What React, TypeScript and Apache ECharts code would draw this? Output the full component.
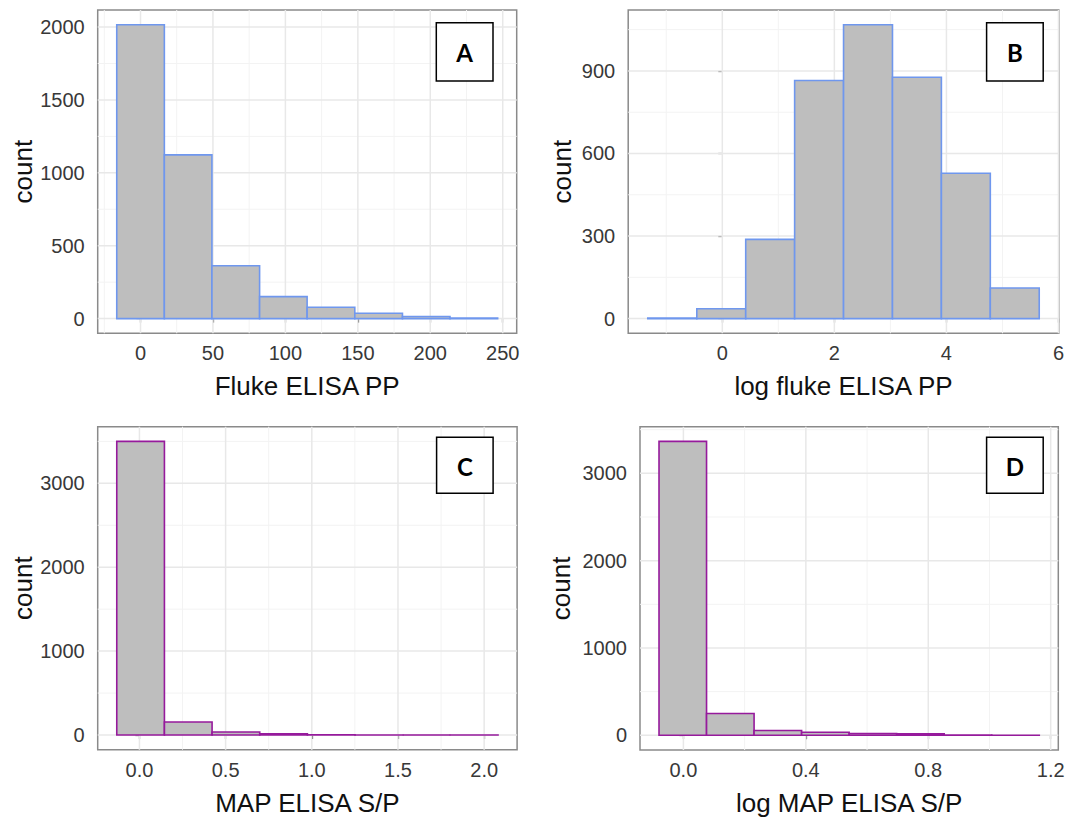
import React, { useEffect, useRef } from "react";
import * as echarts from "echarts";

// A: Fluke ELISA PP
const flukeEdges = [-16.4, 16.46, 49.3, 82.2, 115.0, 147.9, 180.8, 213.6, 246.5];
const flukeCounts = [2016, 1123, 363, 151, 78, 37, 14, 3];
const flukeXTicks = [0, 50, 100, 150, 200, 250];
const flukeXMinor = [-25, 25, 75, 125, 175, 225];
const flukeYTicks = [0, 500, 1000, 1500, 2000];
const flukeYMinor = [250, 750, 1250, 1750];

// B: log fluke ELISA PP
const logFlukeEdges = [-1.33, -0.455, 0.418, 1.291, 2.164, 3.037, 3.91, 4.783, 5.656];
const logFlukeCounts = [2, 36, 288, 865, 1068, 877, 528, 111];
const logFlukeXTicks = [0, 2, 4, 6];
const logFlukeXMinor = [-1, 1, 3, 5];
const logFlukeYTicks = [0, 300, 600, 900];
const logFlukeYMinor = [150, 450, 750, 1050];

// C: MAP ELISA S/P
const mapEdges = [-0.1315, 0.145, 0.4215, 0.698, 0.9745, 1.251, 1.5275, 1.804, 2.0805];
const mapCounts = [3500, 155, 36, 15, 2, 1, 0, 1];
const mapXTicks = [0, 0.5, 1, 1.5, 2];
const mapXMinor = [0.25, 0.75, 1.25, 1.75];
const mapYTicks = [0, 1000, 2000, 3000];
const mapYMinor = [500, 1500, 2500, 3500];

// D: log MAP ELISA S/P
const logMapEdges = [-0.0797, 0.0756, 0.2309, 0.3862, 0.5415, 0.6968, 0.8521, 1.0074, 1.1627];
const logMapCounts = [3366, 249, 55, 35, 20, 17, 3, 1];
const logMapXTicks = [0, 0.4, 0.8, 1.2];
const logMapXMinor = [0.2, 0.6, 1.0];
const logMapYTicks = [0, 1000, 2000, 3000];
const logMapYMinor = [500, 1500, 2500, 3500];

const BLUE = "#6f97ee";
const PURPLE = "#961a9c";
const FILL = "#bebebe";
const FONT = "Liberation Sans";
const LABEL_COLOR = "#383838";

type Panel = {
  letter: string;
  xName: string;
  edges: number[];
  counts: number[];
  xTicks: number[];
  xMinor: number[];
  yTicks: number[];
  yMinor: number[];
  decimals: number;
  stroke: string;
  grid: { left: number; top: number; width: number; height: number };
  yNameGap: number;
  box: { x: number; y: number; w: number; h: number };
};

const panels: Panel[] = [
  {
    letter: "A", xName: "Fluke ELISA PP",
    edges: flukeEdges, counts: flukeCounts,
    xTicks: flukeXTicks, xMinor: flukeXMinor, yTicks: flukeYTicks, yMinor: flukeYMinor,
    decimals: 0, stroke: BLUE,
    grid: { left: 97.7, top: 10, width: 419, height: 323.3 },
    yNameGap: 62,
    box: { x: 436.3, y: 22.7, w: 56.7, h: 58.3 },
  },
  {
    letter: "B", xName: "log fluke ELISA PP",
    edges: logFlukeEdges, counts: logFlukeCounts,
    xTicks: logFlukeXTicks, xMinor: logFlukeXMinor, yTicks: logFlukeYTicks, yMinor: logFlukeYMinor,
    decimals: 0, stroke: BLUE,
    grid: { left: 628.2, top: 10, width: 430.6, height: 323.3 },
    yNameGap: 53.5,
    box: { x: 986.6, y: 22.7, w: 56.6, h: 58.3 },
  },
  {
    letter: "C", xName: "MAP ELISA S/P",
    edges: mapEdges, counts: mapCounts,
    xTicks: mapXTicks, xMinor: mapXMinor, yTicks: mapYTicks, yMinor: mapYMinor,
    decimals: 1, stroke: PURPLE,
    grid: { left: 97.7, top: 426.7, width: 419.4, height: 323 },
    yNameGap: 62,
    box: { x: 436.6, y: 437.3, w: 56.5, h: 56 },
  },
  {
    letter: "D", xName: "log MAP ELISA S/P",
    edges: logMapEdges, counts: logMapCounts,
    xTicks: logMapXTicks, xMinor: logMapXMinor, yTicks: logMapYTicks, yMinor: logMapYMinor,
    decimals: 1, stroke: PURPLE,
    grid: { left: 640, top: 426.7, width: 418.3, height: 323.3 },
    yNameGap: 66,
    box: { x: 986.6, y: 437.3, w: 56.6, h: 56 },
  },
];

// ggplot-style 5% expansion of the data range
const expand = (lo: number, hi: number) => {
  const pad = (hi - lo) * 0.05;
  return [lo - pad, hi + pad];
};

const renderGridLine = (params: any, api: any) => {
  const cs = params.coordSys;
  const v = api.value(0);
  const dir = api.value(1);
  const major = api.value(2) === 1;
  let shape;
  if (dir === 0) {
    const x = api.coord([v, 0])[0];
    shape = { x1: x, y1: cs.y, x2: x, y2: cs.y + cs.height };
  } else {
    const y = api.coord([0, v])[1];
    shape = { x1: cs.x, y1: y, x2: cs.x + cs.width, y2: y };
  }
  return {
    type: "line",
    shape,
    style: { stroke: major ? "#e8e8e8" : "#f3f3f3", lineWidth: major ? 1.5 : 1 },
  };
};

const makeBarRenderer = (stroke: string) => (params: any, api: any) => {
  const x0 = api.value(0);
  const x1 = api.value(1);
  const c = api.value(2);
  const p0 = api.coord([x0, 0]);
  const p1 = api.coord([x1, c]);
  return {
    type: "rect",
    shape: { x: p0[0], y: p1[1], width: p1[0] - p0[0], height: p0[1] - p1[1] },
    style: { fill: FILL, stroke, lineWidth: 1.6 },
  };
};

function buildOption() {
  const grid: any[] = [];
  const xAxis: any[] = [];
  const yAxis: any[] = [];
  const series: any[] = [];
  const graphic: any[] = [];

  panels.forEach((p, i) => {
    const [xMin, xMax] = expand(p.edges[0], p.edges[p.edges.length - 1]);
    const [yMin, yMax] = expand(0, Math.max(...p.counts));

    grid.push({
      ...p.grid,
      show: true,
      borderColor: "#8a8a8a",
      borderWidth: 1.5,
      backgroundColor: "#ffffff",
      containLabel: false,
      outerBoundsMode: "none",
    });

    xAxis.push({
      gridIndex: i,
      type: "value",
      min: xMin,
      max: xMax,
      axisLine: { show: false },
      axisTick: {
        show: true,
        customValues: p.xTicks,
        length: 4,
        lineStyle: { color: "#333333", width: 1.2 },
      },
      axisLabel: {
        customValues: p.xTicks,
        formatter: (v: number) => v.toFixed(p.decimals),
        fontSize: 20,
        color: LABEL_COLOR,
        fontFamily: FONT,
        margin: 10,
      },
      splitLine: { show: false },
      name: p.xName,
      nameLocation: "middle",
      nameGap: 40,
      nameTextStyle: { fontSize: 26, color: "#111111", fontFamily: FONT },
    });

    yAxis.push({
      gridIndex: i,
      type: "value",
      min: yMin,
      max: yMax,
      axisLine: { show: false },
      axisTick: {
        show: true,
        customValues: p.yTicks,
        length: 4,
        lineStyle: { color: "#333333", width: 1.2 },
      },
      axisLabel: {
        customValues: p.yTicks,
        formatter: (v: number) => String(v),
        fontSize: 20,
        color: LABEL_COLOR,
        fontFamily: FONT,
        margin: 13,
      },
      splitLine: { show: false },
      name: "count",
      nameLocation: "middle",
      nameGap: p.yNameGap,
      nameTextStyle: { fontSize: 26, color: "#111111", fontFamily: FONT },
    });

    const gridLines: number[][] = [
      ...p.xMinor.map((v) => [v, 0, 0]),
      ...p.yMinor.map((v) => [v, 1, 0]),
      ...p.xTicks.map((v) => [v, 0, 1]),
      ...p.yTicks.map((v) => [v, 1, 1]),
    ];
    series.push({
      type: "custom",
      xAxisIndex: i,
      yAxisIndex: i,
      z: 1,
      silent: true,
      renderItem: renderGridLine,
      data: gridLines,
    });

    series.push({
      type: "custom",
      xAxisIndex: i,
      yAxisIndex: i,
      z: 2,
      renderItem: makeBarRenderer(p.stroke),
      encode: { x: [0, 1], y: 2 },
      data: p.counts.map((c, k) => [p.edges[k], p.edges[k + 1], c]),
    });

    graphic.push({
      type: "rect",
      z: 10,
      shape: { x: p.box.x, y: p.box.y, width: p.box.w, height: p.box.h },
      style: { fill: "#ffffff", stroke: "#000000", lineWidth: 1.5 },
    });
    graphic.push({
      type: "text",
      z: 11,
      x: p.box.x + p.box.w / 2,
      y: p.box.y + p.box.h / 2 + 1,
      style: {
        text: p.letter,
        font: 'bold 24px "Lato"',
        fill: "#000000",
        align: "center",
        verticalAlign: "middle",
      },
    });
  });

  return {
    animation: false,
    backgroundColor: "#ffffff",
    grid,
    xAxis,
    yAxis,
    series,
    graphic,
  };
}

export default function App() {
  const ref = useRef<HTMLDivElement>(null);
  useEffect(() => {
    if (!ref.current) return;
    const chart = echarts.init(ref.current, null, { renderer: "svg" });
    chart.setOption(buildOption() as any);
    return () => chart.dispose();
  }, []);
  return (
    <div
      ref={ref}
      style={{ position: "fixed", left: 0, top: 0, width: 1074, height: 818, background: "#fff" }}
    />
  );
}
